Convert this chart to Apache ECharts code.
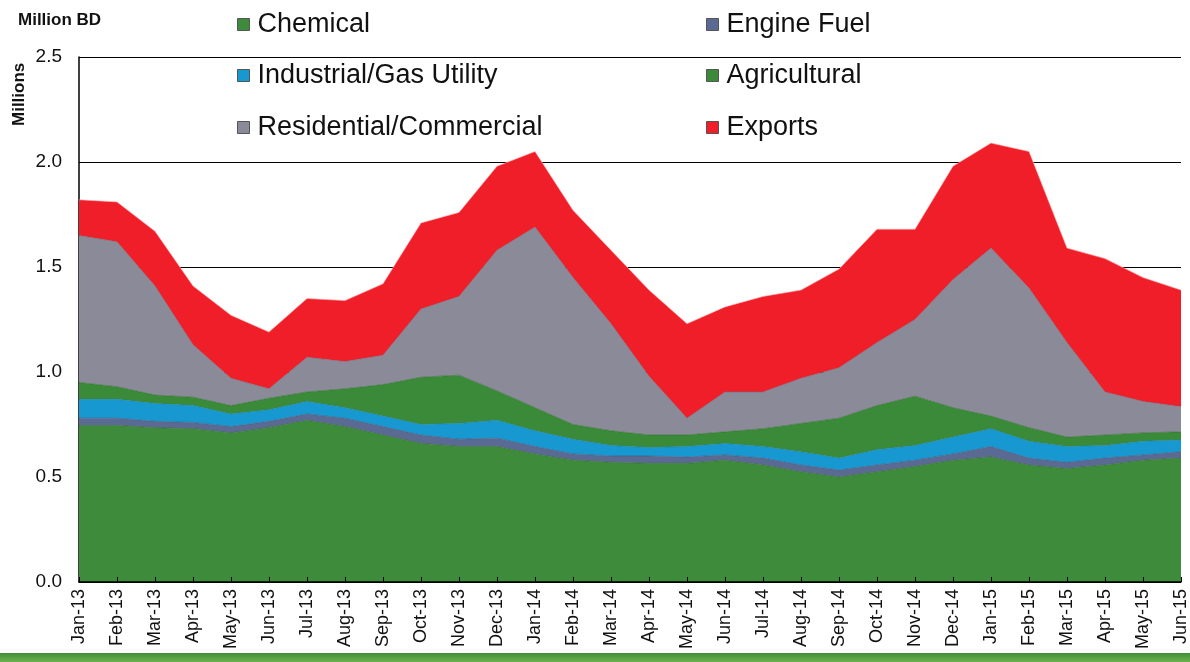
<!DOCTYPE html>
<html>
<head>
<meta charset="utf-8">
<script src="https://cdn.jsdelivr.net/npm/echarts@6/dist/echarts.min.js"></script>
<style>
html,body{margin:0;padding:0;background:#fff;}
#chart{width:1190px;height:662px;}
</style>
</head>
<body>
<div id="chart"></div>
<script>
const months = ['Jan-13','Feb-13','Mar-13','Apr-13','May-13','Jun-13','Jul-13','Aug-13','Sep-13','Oct-13','Nov-13','Dec-13',
  'Jan-14','Feb-14','Mar-14','Apr-14','May-14','Jun-14','Jul-14','Aug-14','Sep-14','Oct-14','Nov-14','Dec-14',
  'Jan-15','Feb-15','Mar-15','Apr-15','May-15','Jun-15'];
const chemical    = [0.745,0.745,0.735,0.73,0.71,0.735,0.77,0.74,0.70,0.66,0.645,0.645,0.61,0.58,0.57,0.565,0.565,0.58,0.557,0.525,0.50,0.525,0.55,0.58,0.595,0.557,0.54,0.557,0.58,0.59];
const engineFuel  = [0.035,0.035,0.03,0.03,0.03,0.03,0.03,0.04,0.04,0.04,0.035,0.04,0.035,0.03,0.03,0.035,0.03,0.025,0.033,0.032,0.033,0.032,0.03,0.03,0.05,0.033,0.03,0.033,0.025,0.03];
const industrial  = [0.09,0.09,0.085,0.08,0.06,0.055,0.06,0.05,0.05,0.05,0.075,0.085,0.075,0.07,0.05,0.04,0.05,0.055,0.055,0.063,0.057,0.073,0.07,0.08,0.085,0.08,0.075,0.06,0.065,0.056];
const agricultural= [0.08,0.06,0.04,0.04,0.04,0.055,0.045,0.09,0.15,0.225,0.23,0.14,0.11,0.07,0.07,0.06,0.055,0.055,0.085,0.135,0.19,0.21,0.235,0.14,0.06,0.065,0.045,0.05,0.04,0.039];
const residential = [0.70,0.69,0.52,0.25,0.13,0.045,0.165,0.13,0.14,0.325,0.375,0.67,0.86,0.70,0.51,0.28,0.08,0.19,0.175,0.215,0.24,0.30,0.365,0.61,0.80,0.665,0.45,0.205,0.15,0.12];
const exportsBD   = [0.17,0.19,0.26,0.28,0.30,0.27,0.28,0.29,0.34,0.41,0.40,0.40,0.36,0.32,0.35,0.41,0.45,0.405,0.455,0.42,0.47,0.54,0.43,0.54,0.50,0.65,0.45,0.635,0.59,0.555];
const yTicks = [0, 0.5, 1.0, 1.5, 2.0, 2.5];

const names = ['Chemical','Engine Fuel','Industrial/Gas Utility','Agricultural','Residential/Commercial','Exports'];
const colors = ['#3d8b3b','#5b6a92','#1898d0','#3b8a39','#8b8a99','#f01e28'];
const lineColors = ['#2f6f2c','#46557a','#1580b2','#2d6e2b','#6e6c7c','#ffb0b0'];
const dataSets = [chemical, engineFuel, industrial, agricultural, residential, exportsBD];

const FONT = 'Liberation Sans, Arial, sans-serif';
const legendPos = [
  {left:237, top:11},{left:706, top:11},
  {left:237, top:62},{left:706, top:62},
  {left:237, top:114},{left:706, top:114}
];
const chart = echarts.init(document.getElementById('chart'), null, {renderer:'canvas'});
chart.setOption({
  animation:false,
  backgroundColor:'#ffffff',
  grid:{left:79, right:7, top:57, bottom:80, containLabel:false},
  legend: names.map((n,i)=>({
    data:[n], left:legendPos[i].left, top:legendPos[i].top, padding:0,
    icon:'rect', itemWidth:12, itemHeight:12,
    itemStyle:{borderColor:'#555', borderWidth:1},
    textStyle:{fontFamily:FONT, fontSize:27, color:'#111', padding:[0,0,0,3]},
    selectedMode:false
  })),
  xAxis:{
    type:'category', data:months, boundaryGap:false,
    axisLine:{lineStyle:{color:'#000', width:1.5}},
    axisTick:{inside:true, length:5, lineStyle:{color:'#000'}, interval:0},
    axisLabel:{rotate:90, interval:0, fontFamily:FONT, fontSize:18, color:'#111', margin:7},
    splitLine:{show:false}, z:10
  },
  yAxis:{
    type:'value', min:yTicks[0], max:yTicks[yTicks.length-1], interval:0.5,
    axisLine:{show:true, lineStyle:{color:'#000', width:1.5}},
    axisTick:{show:true, inside:true, length:5, lineStyle:{color:'#000'}},
    axisLabel:{fontFamily:FONT, fontSize:19, color:'#111', margin:17, formatter:v=>v.toFixed(1)},
    splitLine:{show:true, lineStyle:{color:'#000', width:1.2}}
  },
  series: names.map((n,i)=>({
    name:n, type:'line', stack:'total', data:dataSets[i],
    symbol:'none', smooth:false,
    lineStyle:{width:0.6, color:lineColors[i]},
    itemStyle:{color:colors[i]},
    areaStyle:{color:colors[i], opacity:1}
  })),
  graphic:[
    {type:'text', left:18, top:12, style:{text:'Million BD', font:'bold 17px '+FONT, fill:'#111'}},
    {type:'text', x:11, y:126, rotation:Math.PI/2, style:{text:'Millions', font:'bold 17px '+FONT, fill:'#111'}},
    {type:'rect', shape:{x:0, y:653, width:1190, height:9},
      style:{fill:new echarts.graphic.LinearGradient(0,0,0,1,[{offset:0,color:'#3f8f35'},{offset:1,color:'#6fb04e'}])}}
  ]
});
</script>
</body>
</html>
